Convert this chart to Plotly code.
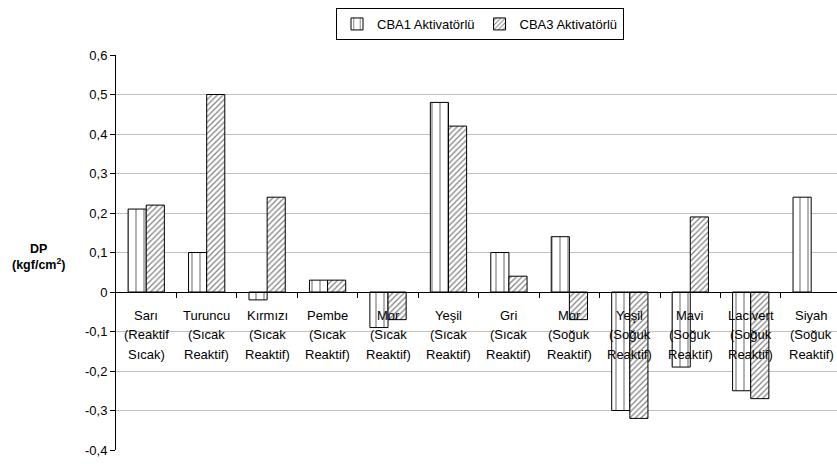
import plotly.graph_objects as go

categories = ["Sarı\n(Reaktif\nSıcak)", "Turuncu\n(Sıcak\nReaktif)", "Kırmızı\n(Sıcak\nReaktif)",
              "Pembe\n(Sıcak\nReaktif)", "Mor\n(Sıcak\nReaktif)", "Yeşil\n(Sıcak\nReaktif)",
              "Gri\n(Sıcak\nReaktif)", "Mor\n(Soğuk\nReaktif)", "Yeşil\n(Soğuk\nReaktif)",
              "Mavi\n(Soğuk\nReaktif)", "Lacivert\n(Soğuk\nReaktif)", "Siyah\n(Soğuk\nReaktif)"]
cba1 = [0.21, 0.10, -0.02, 0.03, -0.09, 0.48, 0.10, 0.14, -0.30, -0.19, -0.25, 0.24]
cba3 = [0.22, 0.50, 0.24, 0.03, -0.07, 0.42, 0.04, -0.07, -0.32, 0.19, -0.27, None]
series_names = ["CBA1 Aktivatörlü", "CBA3 Aktivatörlü"]
ytick_vals = [0.6, 0.5, 0.4, 0.3, 0.2, 0.1, 0, -0.1, -0.2, -0.3, -0.4]
ytick_text = ["0,6", "0,5", "0,4", "0,3", "0,2", "0,1", "0", "-0,1", "-0,2", "-0,3", "-0,4"]
y_title = "<b>DP<br>(kgf/cm<sup>2</sup>)</b>"

xs = list(range(len(categories)))
FONT = "Liberation Sans, Arial, sans-serif"
W, H = 837, 464
ML, MR, MT, MB = 116, 0, 55, 14
plot_w = W - ML - MR
cat_px = 60.45

fig = go.Figure()
fig.add_trace(go.Bar(
    x=xs, y=cba1, name=series_names[0],
    marker=dict(color="white", line=dict(color="black", width=1),
                pattern=dict(shape="|", fgcolor="black", bgcolor="white", size=8, solidity=0.15)),
))
fig.add_trace(go.Bar(
    x=xs, y=cba3, name=series_names[1],
    marker=dict(color="white", line=dict(color="black", width=1),
                pattern=dict(shape="/", fgcolor="black", bgcolor="white", size=4, solidity=0.3)),
))

line_shifts = [-23, -42.5, -62]
for i, c in enumerate(categories):
    for j, line in enumerate(c.split("\n")):
        fig.add_annotation(x=i, y=0, xref="x", yref="y", text=line, showarrow=False,
                           yanchor="middle", yshift=line_shifts[j],
                           font=dict(size=13, color="black", family=FONT))

fig.add_annotation(x=(39 - ML) / plot_w, y=0.088, xref="paper", yref="y", text=y_title,
                   xanchor="center", showarrow=False,
                   font=dict(size=12.5, color="black", family=FONT))

fig.update_layout(
    width=W, height=H,
    margin=dict(l=ML, r=MR, t=MT, b=MB, autoexpand=False),
    paper_bgcolor="white", plot_bgcolor="white",
    barmode="group", bargap=0.40, bargroupgap=0,
    font=dict(family=FONT, size=13, color="black"),
    legend=dict(orientation="h", x=(480 - ML) / plot_w, xanchor="center",
                y=1 + (MT - 8) / (H - MT - MB), yanchor="top",
                bordercolor="black", borderwidth=1, font=dict(size=13, color="black"),
                itemwidth=30, tracegroupgap=0),
    xaxis=dict(range=[-0.5, -0.5 + plot_w / cat_px], showgrid=False, zeroline=False,
               anchor="free", position=0.4, showline=True, linecolor="black", linewidth=1,
               tickvals=[i + 0.5 for i in range(len(categories) - 1)], ticks="outside",
               ticklen=5, tickcolor="black", showticklabels=False),
    yaxis=dict(range=[-0.4, 0.6], tickvals=ytick_vals, ticktext=ytick_text,
               showgrid=True, gridcolor="#c0c0c0", gridwidth=1, zeroline=False,
               showline=True, linecolor="black", linewidth=1, ticks="outside",
               ticklen=5, tickcolor="black", tickfont=dict(size=13, color="black")),
)

fig.write_html("out.html", config={"displayModeBar": False},
               post_script="document.body.style.margin='0px';document.body.style.overflow='hidden';")
